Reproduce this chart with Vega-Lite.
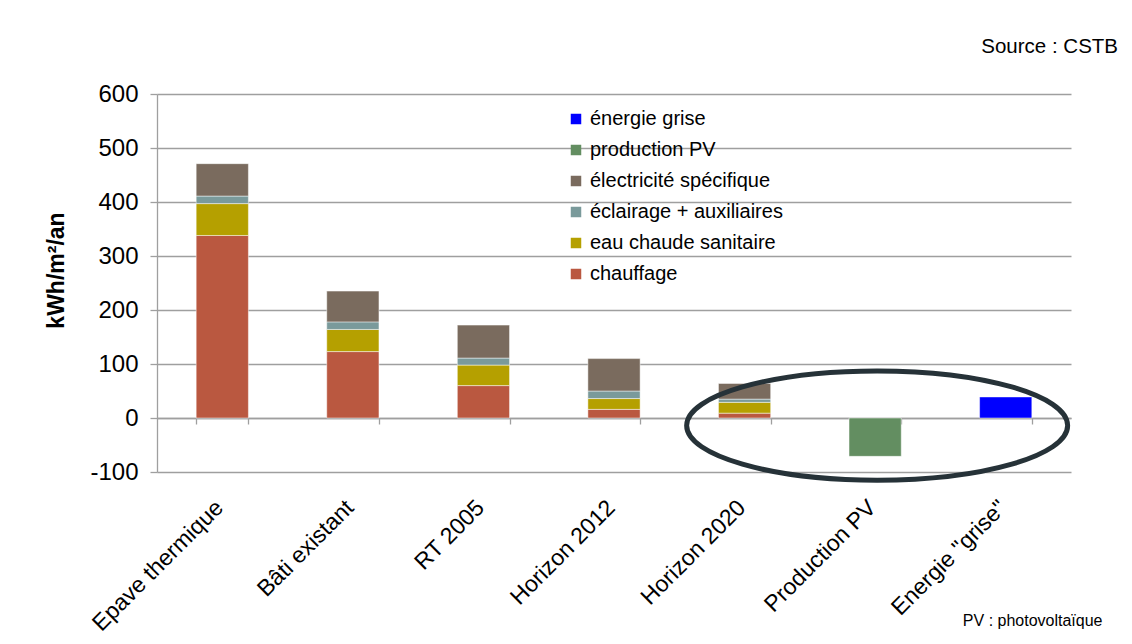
{
  "$schema": "https://vega.github.io/schema/vega-lite/v6.json",
  "width": 914,
  "height": 378,
  "autosize": "none",
  "padding": {"left": 157, "top": 94, "right": 61, "bottom": 172},
  "background": "white",
  "config": {
    "font": "Liberation Sans",
    "view": {"stroke": null},
    "axis": {"gridColor": "#9f9f9f", "gridWidth": 1.3, "domainColor": "#9f9f9f", "domainWidth": 1.3, "tickColor": "#9f9f9f", "tickWidth": 1.3, "labelColor": "#000000", "titleColor": "#000000"}
  },
  "title": {
    "text": "Source : CSTB",
    "anchor": "end",
    "frame": "group",
    "orient": "top",
    "fontSize": 20.5,
    "fontWeight": "normal",
    "color": "#000000",
    "baseline": "alphabetic",
    "offset": 9,
    "dx": 47
  },
  "datasets": {
    "barres": [
      {"categorie": "Epave thermique", "poste": "chauffage", "valeur": 338, "rang": 1},
      {"categorie": "Epave thermique", "poste": "eau chaude sanitaire", "valeur": 59, "rang": 2},
      {"categorie": "Epave thermique", "poste": "éclairage + auxiliaires", "valeur": 14, "rang": 3},
      {"categorie": "Epave thermique", "poste": "électricité spécifique", "valeur": 60, "rang": 4},
      {"categorie": "Bâti existant", "poste": "chauffage", "valeur": 123, "rang": 1},
      {"categorie": "Bâti existant", "poste": "eau chaude sanitaire", "valeur": 41, "rang": 2},
      {"categorie": "Bâti existant", "poste": "éclairage + auxiliaires", "valeur": 14, "rang": 3},
      {"categorie": "Bâti existant", "poste": "électricité spécifique", "valeur": 57, "rang": 4},
      {"categorie": "RT 2005", "poste": "chauffage", "valeur": 60, "rang": 1},
      {"categorie": "RT 2005", "poste": "eau chaude sanitaire", "valeur": 38, "rang": 2},
      {"categorie": "RT 2005", "poste": "éclairage + auxiliaires", "valeur": 13, "rang": 3},
      {"categorie": "RT 2005", "poste": "électricité spécifique", "valeur": 61, "rang": 4},
      {"categorie": "Horizon 2012", "poste": "chauffage", "valeur": 16, "rang": 1},
      {"categorie": "Horizon 2012", "poste": "eau chaude sanitaire", "valeur": 20, "rang": 2},
      {"categorie": "Horizon 2012", "poste": "éclairage + auxiliaires", "valeur": 14, "rang": 3},
      {"categorie": "Horizon 2012", "poste": "électricité spécifique", "valeur": 60, "rang": 4},
      {"categorie": "Horizon 2020", "poste": "chauffage", "valeur": 9, "rang": 1},
      {"categorie": "Horizon 2020", "poste": "eau chaude sanitaire", "valeur": 20, "rang": 2},
      {"categorie": "Horizon 2020", "poste": "éclairage + auxiliaires", "valeur": 6, "rang": 3},
      {"categorie": "Horizon 2020", "poste": "électricité spécifique", "valeur": 29, "rang": 4},
      {"categorie": "Production PV", "poste": "production PV", "valeur": -71, "rang": 5},
      {"categorie": "Energie \"grise\"", "poste": "énergie grise", "valeur": 39, "rang": 6}
    ],
    "ellipse": [
      {"categorie": "Production PV", "valeur": -14}
    ]
  },
  "layer": [
    {
      "data": {"name": "barres"},
      "mark": {"type": "bar", "stroke": "#ffffff", "strokeWidth": 0.8, "strokeOpacity": 0.6},
      "encoding": {
        "x": {
          "field": "categorie",
          "type": "nominal",
          "sort": ["Epave thermique", "Bâti existant", "RT 2005", "Horizon 2012", "Horizon 2020", "Production PV", "Energie \"grise\""],
          "scale": {"paddingInner": 0.6, "paddingOuter": 0.3},
          "axis": {
            "title": "PV : photovoltaïque",
            "titleFontSize": 16,
            "titleFontWeight": "normal",
            "titleX": 945,
            "titleY": 202,
            "titleAlign": "right",
            "titleBaseline": "middle",
            "offset": -54,
            "domain": true,
            "ticks": true,
            "tickBand": "extent",
            "tickSize": 6,
            "labelAngle": -45,
            "labelAlign": "right",
            "labelBaseline": "top",
            "labelPadding": 72,
            "labelOffset": -11,
            "labelFontSize": 23,
            "labelLimit": 400
          }
        },
        "y": {
          "field": "valeur",
          "type": "quantitative",
          "stack": "zero",
          "scale": {"domain": [-100, 600], "nice": false, "zero": false},
          "axis": {
            "title": "kWh/m²/an",
            "titleFontSize": 23,
            "titleFontWeight": "bold",
            "titleAngle": -90,
            "titleX": -101,
            "titleY": 176,
            "titleAlign": "center",
            "titleBaseline": "middle",
            "values": [-100, 0, 100, 200, 300, 400, 500, 600],
            "labelExpr": "'' + datum.value",
            "labelFontSize": 24,
            "labelPadding": 12,
            "tickSize": 7,
            "grid": true
          }
        },
        "color": {
          "field": "poste",
          "type": "nominal",
          "scale": {
            "domain": ["énergie grise", "production PV", "électricité spécifique", "éclairage + auxiliaires", "eau chaude sanitaire", "chauffage"],
            "range": ["#0000ff", "#638e61", "#7a6b5e", "#7a9a9b", "#b5a000", "#ba5840"]
          },
          "legend": {
            "title": null,
            "orient": "none",
            "legendX": 409,
            "legendY": 15,
            "padding": 0,
            "symbolType": "square",
            "symbolSize": 110,
            "symbolStrokeWidth": 0,
            "labelFontSize": 20,
            "labelColor": "#000000",
            "labelOffset": 4,
            "rowPadding": 11,
            "labelLimit": 400
          }
        },
        "order": {"field": "rang", "type": "quantitative", "sort": "ascending"}
      }
    },
    {
      "data": {"name": "ellipse"},
      "mark": {
        "type": "point",
        "shape": "M -1 0 C -1 -0.158 -0.552 -0.287 0 -0.287 C 0.552 -0.287 1 -0.158 1 0 C 1 0.158 0.552 0.287 0 0.287 C -0.552 0.287 -1 0.158 -1 0 Z",
        "filled": false,
        "stroke": "#263238",
        "strokeWidth": 5,
        "opacity": 1,
        "size": 145161,
        "xOffset": 2
      },
      "encoding": {
        "x": {
          "field": "categorie",
          "type": "nominal",
          "sort": ["Epave thermique", "Bâti existant", "RT 2005", "Horizon 2012", "Horizon 2020", "Production PV", "Energie \"grise\""]
        },
        "y": {"field": "valeur", "type": "quantitative"}
      }
    }
  ]
}
